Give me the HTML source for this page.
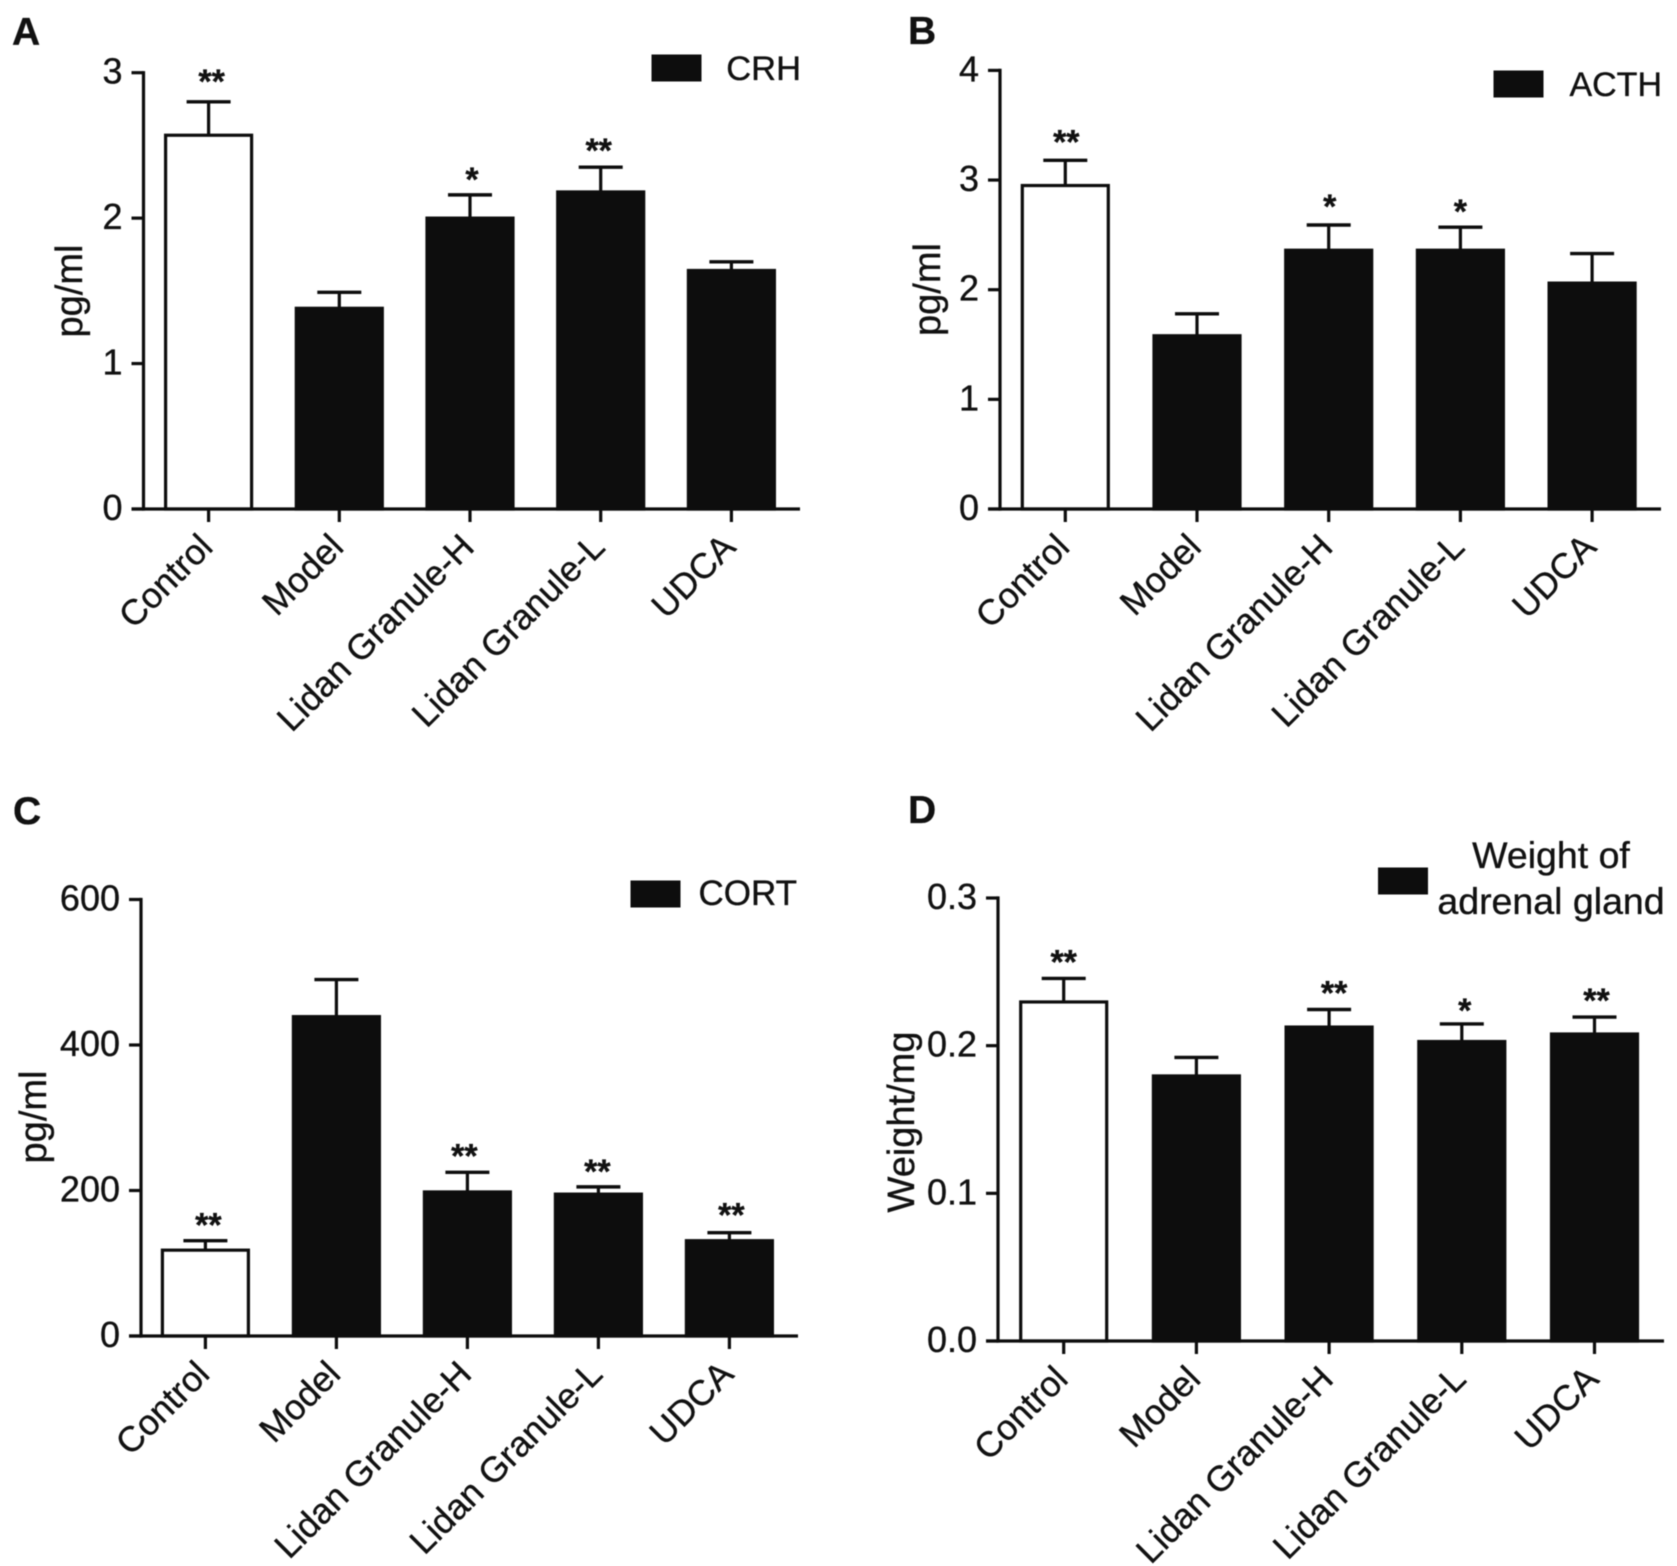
<!DOCTYPE html>
<html lang="en">
<head>
<meta charset="utf-8">
<title>Lidan Granule bar charts</title>
<style>
html,body{margin:0;padding:0;background:#fff;}
svg{display:block;filter:blur(.5px);}
text{font-family:"Liberation Sans",Arial,sans-serif;fill:#111;stroke:#111;stroke-width:.35px;}
</style>
</head>
<body>
<svg id="figure" xmlns="http://www.w3.org/2000/svg" width="1677" height="1566" viewBox="0 0 1677 1566"></svg>
<script>
const categories = ['Control', 'Model', 'Lidan Granule-H', 'Lidan Granule-L', 'UDCA'];

const crhValues = [2.57, 1.38, 2.0, 2.18, 1.64];
const crhErrorTops = [2.80, 1.49, 2.16, 2.35, 1.70];
const crhStars = ['**', '', '*', '**', ''];
const crhTicks = [0, 1, 2, 3];
const crhTickLabels = ['0', '1', '2', '3'];

const acthValues = [2.95, 1.58, 2.36, 2.36, 2.06];
const acthErrorTops = [3.18, 1.78, 2.59, 2.57, 2.33];
const acthStars = ['**', '', '*', '*', ''];
const acthTicks = [0, 1, 2, 3, 4];
const acthTickLabels = ['0', '1', '2', '3', '4'];

const cortValues = [118, 439, 198, 195, 131];
const cortErrorTops = [131, 490, 225, 205, 142];
const cortStars = ['**', '', '**', '**', '**'];
const cortTicks = [0, 200, 400, 600];
const cortTickLabels = ['0', '200', '400', '600'];

const weightValues = [0.2296, 0.1795, 0.2126, 0.2028, 0.2079];
const weightErrorTops = [0.2455, 0.192, 0.2245, 0.2147, 0.2194];
const weightStars = ['**', '', '**', '*', '**'];
const weightTicks = [0, 0.1, 0.2, 0.3];
const weightTickLabels = ['0.0', '0.1', '0.2', '0.3'];

const NS = 'http://www.w3.org/2000/svg';
const INK = '#0d0d0d';
const figure = document.getElementById('figure');

function make(parent, tag, props, content) {
  const node = document.createElementNS(NS, tag);
  for (const key in props) node.setAttribute(key, props[key]);
  if (content !== undefined) node.textContent = content;
  parent.appendChild(node);
  return node;
}

function line(parent, x1, y1, x2, y2, w) {
  return make(parent, 'line', {x1: x1, y1: y1, x2: x2, y2: y2, stroke: INK, 'stroke-width': w || 3.2});
}

function drawPanel(p) {
  const g = make(figure, 'g', {});
  
  

  const yScale = v => p.yBase - (v / p.yMax) * (p.yBase - p.yTop);
  const xScale = i => p.firstX + i * p.stepX;

  const letter = make(g, 'text', {x: p.letterX, y: p.letterY, 'font-size': 39, 'font-weight': 'bold'}, p.letter);
  
  

  p.values.forEach((v, i) => {
    const cx = xScale(i);
    const top = yScale(v);
    const errTop = yScale(p.errorTops[i]);

    const err = line(g, cx, top, cx, errTop);
    
    

    const cap = line(g, cx - 22, errTop, cx + 22, errTop, 3.4);
    
    

    const bar = make(g, 'rect', {
      x: cx - 43, y: top, width: 86, height: p.yBase - top,
      fill: i === 0 ? '#fff' : INK, stroke: INK, 'stroke-width': 3.2
    });
    
    

    if (p.stars[i]) {
      const star = make(g, 'text', {
        x: cx + p.starDx[i], y: errTop - p.starLift[i] - 4, 'font-size': 34, 'font-weight': 'bold', 'text-anchor': 'middle'
      }, p.stars[i]);
      
      
    }

    const tick = line(g, cx, p.yBase, cx, p.yBase + 13);
    
    

    const lx = cx + 6;
    const ly = p.yBase + 40;
    const label = make(g, 'text', {
      x: lx, y: ly, 'font-size': 35.5, 'text-anchor': 'end',
      transform: 'rotate(-45 ' + lx + ' ' + ly + ')'
    }, categories[i]);
    
    
  });

  const yAxis = line(g, p.axisX, p.yTop - 1.6, p.axisX, p.yBase + 1.6);
  
  

  const xAxis = line(g, p.axisX - 12, p.yBase, p.xEnd, p.yBase);
  
  

  p.ticks.forEach((t, i) => {
    const y = yScale(t);
    const tick = line(g, p.axisX - 12, y, p.axisX, y);
    
    

    const label = make(g, 'text', {x: p.axisX - 21, y: y + 11, 'font-size': 36, 'text-anchor': 'end'}, p.tickLabels[i]);
    
    
  });

  const title = make(g, 'text', {
    x: p.titleX, y: p.titleY, 'font-size': 38, 'text-anchor': 'middle',
    transform: 'rotate(-90 ' + p.titleX + ' ' + p.titleY + ')'
  }, p.yTitle);
  
  

  const swatch = make(g, 'rect', {x: p.legendX, y: p.legendY, width: 49, height: 26, fill: INK, stroke: INK, 'stroke-width': 1});
  
  

  p.legendLines.forEach((text, i) => {
    const entry = make(g, 'text', {
      x: p.legendTextX, y: p.legendTextY + i * 46, 'font-size': p.legendAnchor === 'middle' ? 37.5 : p.legendSize,
      'text-anchor': p.legendAnchor
    }, text);
    
    
  });
}

drawPanel({
  letter: 'A', letterX: 12, letterY: 45,
  axisX: 143.5, xEnd: 800, yTop: 72.7, yBase: 509, yMax: 3,
  firstX: 208.6, stepX: 130.7,
  values: crhValues, errorTops: crhErrorTops, stars: crhStars,
  starDx: [3, 0, 2, -2, 0], starLift: [5, 0, 0, 1, 0],
  ticks: crhTicks, tickLabels: crhTickLabels,
  yTitle: 'pg/ml', titleX: 82, titleY: 291,
  legendX: 652, legendY: 55, legendTextX: 801, legendTextY: 80, legendAnchor: 'end', legendSize: 34.5,
  legendLines: ['CRH']
});

drawPanel({
  letter: 'B', letterX: 908, letterY: 44,
  axisX: 1000, xEnd: 1661, yTop: 70.4, yBase: 509, yMax: 4,
  firstX: 1065.3, stepX: 131.7,
  values: acthValues, errorTops: acthErrorTops, stars: acthStars,
  starDx: [1, 0, 1, 0, 0], starLift: [3, 0, 3, 0, 0],
  ticks: acthTicks, tickLabels: acthTickLabels,
  yTitle: 'pg/ml', titleX: 940, titleY: 289.5,
  legendX: 1494, legendY: 71, legendTextX: 1662, legendTextY: 96, legendAnchor: 'end', legendSize: 34,
  legendLines: ['ACTH']
});

drawPanel({
  letter: 'C', letterX: 13, letterY: 824,
  axisX: 141, xEnd: 798, yTop: 899.5, yBase: 1336, yMax: 600,
  firstX: 205.4, stepX: 131,
  values: cortValues, errorTops: cortErrorTops, stars: cortStars,
  starDx: [3, 0, -3, -1, 2], starLift: [0, 0, 1, 0, 2],
  ticks: cortTicks, tickLabels: cortTickLabels,
  yTitle: 'pg/ml', titleX: 46, titleY: 1117,
  legendX: 631, legendY: 881, legendTextX: 797, legendTextY: 905, legendAnchor: 'end', legendSize: 35,
  legendLines: ['CORT']
});

drawPanel({
  letter: 'D', letterX: 908, letterY: 823,
  axisX: 998, xEnd: 1664, yTop: 898, yBase: 1341, yMax: 0.3,
  firstX: 1063.7, stepX: 132.7,
  values: weightValues, errorTops: weightErrorTops, stars: weightStars,
  starDx: [0, 0, 5, 3, 2], starLift: [1, 0, 1, -2, 1],
  ticks: weightTicks, tickLabels: weightTickLabels,
  yTitle: 'Weight/mg', titleX: 914, titleY: 1122,
  legendX: 1378.5, legendY: 868, legendTextX: 1551, legendTextY: 868, legendAnchor: 'middle', legendSize: 37.5,
  legendLines: ['Weight of', 'adrenal gland']
});
</script>
</body>
</html>
